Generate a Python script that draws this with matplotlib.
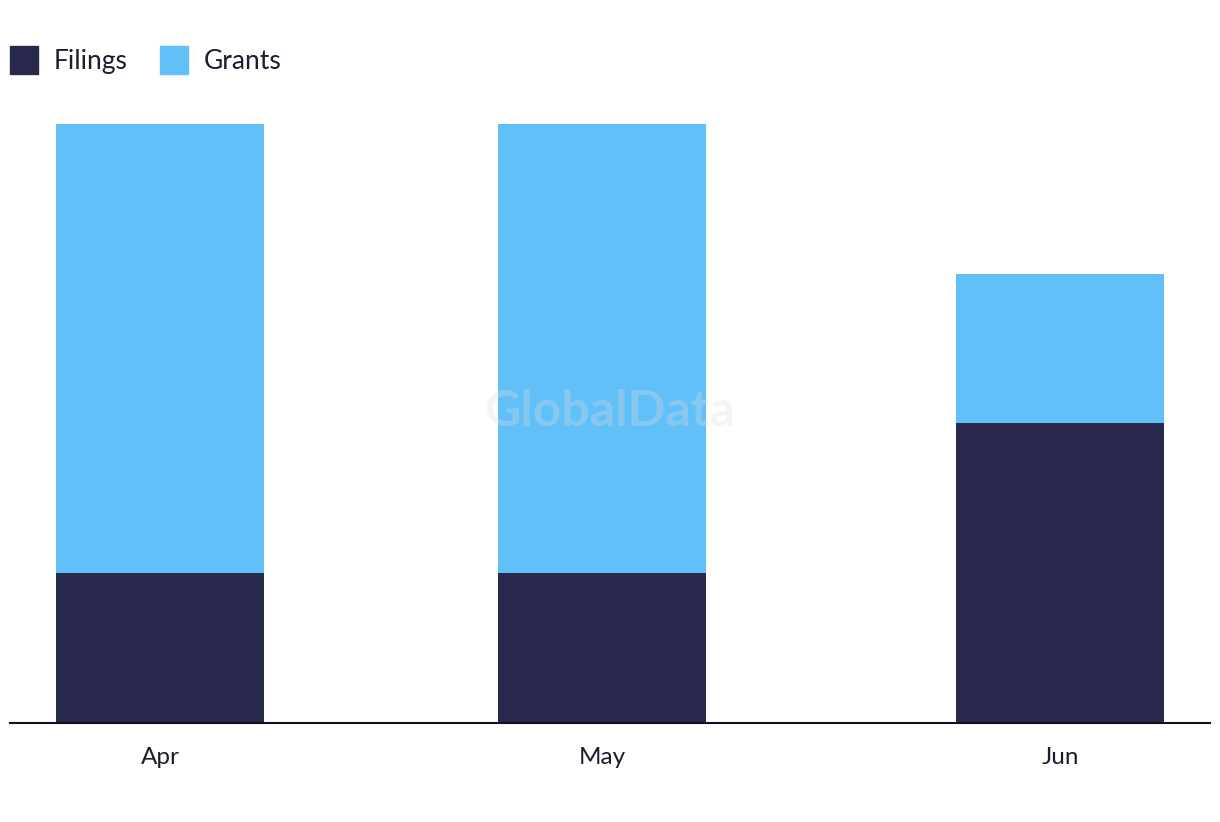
import matplotlib.pyplot as plt
from matplotlib.lines import Line2D

months = ["Apr", "May", "Jun"]
filings = [1, 1, 2]
grants = [3, 3, 1]

DARK = "#27284b"
LIGHT = "#62c0f9"
TEXT = "#1c1c30"

plt.rcParams["font.family"] = ["Lato", "DejaVu Sans"]

fig = plt.figure(figsize=(12.2, 8.22), dpi=100)
ax = fig.add_axes([10 / 1220, 99 / 822, 1200 / 1220, 599 / 822])

# category slots are not quite evenly spaced in the original
x = [0, 0.982, 2]
ax.bar(x, filings, width=0.462, color=DARK, label="Filings", zorder=2)
ax.bar(x, grants, width=0.462, bottom=filings, color=LIGHT, label="Grants", zorder=2)

ax.set_xlim(-0.333, 2.333)
ax.set_ylim(0, 4)
ax.set_xticks(x)
ax.set_xticklabels(months, fontsize=17.5, color=TEXT)
ax.tick_params(axis="x", length=0, pad=17)
ax.set_yticks([])
for s in ["top", "right", "left"]:
    ax.spines[s].set_visible(False)
ax.spines["bottom"].set_color("#111122")
ax.spines["bottom"].set_linewidth(1.5)
ax.spines["bottom"].set_zorder(3)

handles = [
    Line2D([], [], marker="s", linestyle="none", markersize=20, color=DARK),
    Line2D([], [], marker="s", linestyle="none", markersize=20, color=LIGHT),
]
fig.legend(handles, ["Filings", "Grants"], loc="upper left",
           bbox_to_anchor=(10 / 1220, 1 - 49 / 822), ncol=2, frameon=False,
           fontsize=19, labelcolor=TEXT, handlelength=1.05,
           handletextpad=0.6, columnspacing=1.25,
           borderpad=0, borderaxespad=0)

fig.text(0.5, 0.5, "GlobalData", fontsize=36, fontweight="bold",
         color="#dddddd", alpha=0.3, ha="center", va="center", zorder=5)

fig.savefig("out.png", dpi=100)
